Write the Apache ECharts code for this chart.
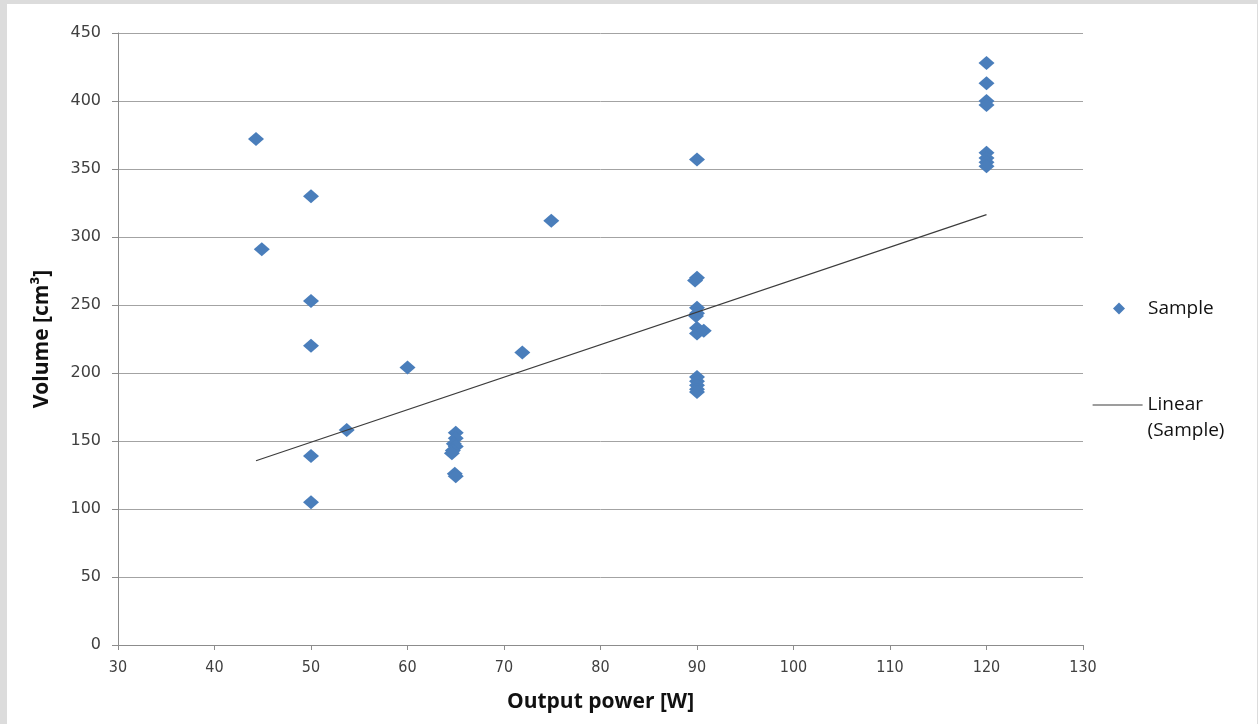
<!DOCTYPE html>
<html>
<head>
<meta charset="utf-8">
<script src="https://cdn.jsdelivr.net/npm/echarts@6/dist/echarts.min.js"></script>
<style>
html,body{margin:0;padding:0;background:#dcdcdc;}
#chart{width:1258px;height:724px;}
</style>
</head>
<body>
<div id="chart"></div>
<script>
// Output power [W] values of the samples
const samplePower = [
  44.3, 44.9, 50, 50, 50, 50, 50, 53.7, 60, 71.9, 74.9,
  65, 65, 64.8, 65, 64.7, 64.6, 64.9, 65,
  90, 90, 89.8, 90, 90, 89.9, 90, 90, 90.7, 90, 90, 90, 90, 90,
  120, 120, 120, 120, 120, 120, 120, 120
];
// Volume [cm3] values of the samples
const sampleVolume = [
  372, 291, 330, 253, 220, 139, 105, 158, 204, 215, 312,
  156, 152, 148, 146, 143, 141, 126, 124,
  357, 270, 268, 248, 244, 242, 233, 229, 231, 197, 194, 191, 188, 186,
  428, 413, 400, 397, 362, 358, 355, 352
];
// Linear trendline endpoints
const trendPower = [44.3, 120];
const trendVolume = [135.5, 316.5];

const xTicks = { min: 30, max: 130, interval: 10 };
const yTicks = { min: 0, max: 450, interval: 50 };

const sampleData = samplePower.map((p, i) => [p, sampleVolume[i]]);
const trendData = trendPower.map((p, i) => [p, trendVolume[i]]);

const legendFont = { fontFamily: 'Open Sans', fontSize: 19, color: '#111111' };

const chart = echarts.init(document.getElementById('chart'));
chart.setOption({
  backgroundColor: '#dcdcdc',
  animation: false,
  graphic: [
    { type: 'rect', z: -10, silent: true, shape: { x: 7, y: 4, width: 1250, height: 720 }, style: { fill: '#ffffff' } }
  ],
  grid: { left: 118, right: 175, top: 33, bottom: 79 },
  legend: [
    {
      data: [{ name: 'Sample', icon: 'diamond' }], orient: 'vertical', left: 1108, top: 294,
      itemWidth: 12, itemHeight: 12,
      formatter: (n) => '{gap|}{t|' + n + '}',
      textStyle: Object.assign({}, legendFont, {
        rich: { gap: { width: 18 }, t: Object.assign({}, legendFont) }
      })
    },
    {
      data: ['Linear (Sample)'], orient: 'vertical', left: 1087, top: 361,
      itemWidth: 50, itemHeight: 14,
      itemStyle: { opacity: 0 },
      lineStyle: { color: '#3c3c3c', width: 1.2 },
      formatter: () => ' \nLinear\n(Sample)',
      textStyle: Object.assign({}, legendFont, { lineHeight: 26 })
    }
  ],
  xAxis: {
    type: 'value', min: xTicks.min, max: xTicks.max, interval: xTicks.interval,
    name: 'Output power [W]', nameLocation: 'middle', nameGap: 47,
    nameTextStyle: { fontFamily: 'Open Sans', fontWeight: 'bold', fontSize: 21, color: '#111111' },
    axisLine: { show: true, lineStyle: { color: '#8c8c8c', width: 1 } },
    axisTick: { show: true, length: 5, lineStyle: { color: '#8c8c8c' } },
    axisLabel: { margin: 15, fontFamily: "'Liberation Sans Narrow', 'DejaVu Sans Condensed', sans-serif", fontSize: 16, color: '#404040' },
    splitLine: { show: false }
  },
  yAxis: {
    type: 'value', min: yTicks.min, max: yTicks.max, interval: yTicks.interval,
    name: 'Volume [cm³]', nameLocation: 'middle', nameGap: 65, nameRotate: 90,
    nameTextStyle: { fontFamily: 'Open Sans', fontWeight: 'bold', fontSize: 21, color: '#111111' },
    axisLine: { show: true, lineStyle: { color: '#8c8c8c', width: 1 } },
    axisTick: { show: true, length: 6, lineStyle: { color: '#8c8c8c' } },
    axisLabel: { margin: 17, fontFamily: 'DejaVu Sans', fontSize: 16, color: '#404040' },
    splitLine: { show: true, lineStyle: { color: '#a3a3a3', width: 1 } }
  },
  series: [
    {
      name: 'Sample', type: 'scatter', data: sampleData,
      symbol: 'diamond', symbolSize: [16, 14],
      itemStyle: { color: '#4a7ebb', opacity: 1 }
    },
    {
      name: 'Linear (Sample)', type: 'line', data: trendData,
      symbol: 'none', lineStyle: { color: '#3c3c3c', width: 1.2 },
      itemStyle: { color: '#3c3c3c' }
    }
  ]
});
</script>
</body>
</html>
